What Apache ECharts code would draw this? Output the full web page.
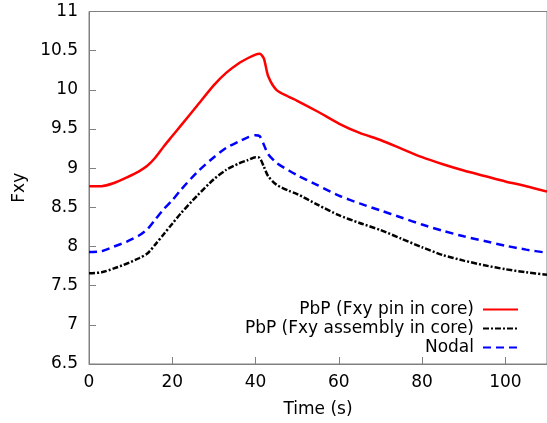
<!DOCTYPE html>
<html>
<head>
<meta charset="utf-8">
<script src="https://cdn.jsdelivr.net/npm/echarts@6/dist/echarts.min.js"></script>
<style>html,body{margin:0;padding:0;background:#fff;}#c{width:547px;height:423px;}</style>
</head>
<body>
<div id="c"></div>
<script>
var times = [0, 3, 6, 9, 12, 14, 16, 18, 20, 22, 26, 30, 33, 36, 38, 40, 41, 42, 43, 45, 48, 50, 55, 60, 65, 70, 75, 80, 85, 90, 95, 100, 105, 110];
var pinCore = [8.77, 8.77, 8.81, 8.88, 8.96, 9.03, 9.14, 9.28, 9.41, 9.54, 9.80, 10.06, 10.22, 10.34, 10.40, 10.45, 10.46, 10.40, 10.18, 10.00, 9.91, 9.86, 9.72, 9.57, 9.45, 9.36, 9.25, 9.14, 9.05, 8.97, 8.90, 8.83, 8.77, 8.70];
var assemblyCore = [7.66, 7.67, 7.72, 7.78, 7.85, 7.91, 8.03, 8.16, 8.29, 8.42, 8.65, 8.86, 8.98, 9.06, 9.10, 9.14, 9.13, 9.02, 8.90, 8.79, 8.71, 8.67, 8.53, 8.40, 8.30, 8.21, 8.10, 7.99, 7.89, 7.82, 7.76, 7.71, 7.67, 7.64];
var nodal = [7.93, 7.94, 8.00, 8.06, 8.14, 8.22, 8.35, 8.48, 8.59, 8.72, 8.95, 9.14, 9.26, 9.34, 9.39, 9.42, 9.41, 9.30, 9.18, 9.07, 8.97, 8.91, 8.78, 8.65, 8.55, 8.46, 8.37, 8.28, 8.20, 8.13, 8.07, 8.01, 7.96, 7.92];
var seriesNames = ['PbP (Fxy pin in core)', 'PbP (Fxy assembly in core)', 'Nodal'];
var xTitle = 'Time (s)';
var yTitle = 'Fxy';

function pairs(ys){ return times.map(function(t,i){ return [t, ys[i]]; }); }

var font = 'DejaVu Sans';
var axisGray = '#808080';
var chart = echarts.init(document.getElementById('c'));
chart.setOption({
  animation: false,
  backgroundColor: '#fff',
  grid: { left: 89, right: -2, top: 11.5, bottom: 56, show: true, borderColor: axisGray, borderWidth: 1 },
  xAxis: {
    type: 'value', min: 0, max: 110, interval: 20,
    name: xTitle, nameLocation: 'middle', nameGap: 37,
    nameTextStyle: { fontFamily: font, fontSize: 17, color: '#000' },
    axisLine: { lineStyle: { color: axisGray } },
    axisTick: { inside: true, length: 7, lineStyle: { color: axisGray } },
    axisLabel: { fontFamily: font, fontSize: 17, color: '#000', margin: 10, showMaxLabel: false },
    splitLine: { show: false }
  },
  yAxis: {
    type: 'value', min: 6.5, max: 11, interval: 0.5,
    name: yTitle, nameLocation: 'middle', nameGap: 61, nameRotate: 90,
    nameTextStyle: { fontFamily: font, fontSize: 17, color: '#000' },
    axisLine: { show: true, lineStyle: { color: axisGray } },
    axisTick: { show: true, inside: true, length: 7, lineStyle: { color: axisGray } },
    axisLabel: { fontFamily: font, fontSize: 17, color: '#000', margin: 11 },
    splitLine: { show: false }
  },
  legend: {
    orient: 'vertical', right: 23, top: 296, align: 'right',
    itemWidth: 35, itemHeight: 14, itemGap: 2,
    itemStyle: { opacity: 0 },
    textStyle: { fontFamily: font, fontSize: 17, color: '#000', padding: [0, 4, 0, 0] },
    data: seriesNames
  },
  series: [
    { name: seriesNames[0], type: 'line', data: pairs(pinCore), showSymbol: false, symbol: 'none', smooth: 0.25,
      lineStyle: { color: '#ff0000', width: 2.5 }, itemStyle: { color: '#ff0000' } },
    { name: seriesNames[1], type: 'line', data: pairs(assemblyCore), showSymbol: false, symbol: 'none', smooth: 0.25,
      lineStyle: { color: '#000000', width: 2.5, type: [6, 2, 2, 2] }, itemStyle: { color: '#000000' } },
    { name: seriesNames[2], type: 'line', data: pairs(nodal), showSymbol: false, symbol: 'none', smooth: 0.25,
      lineStyle: { color: '#0000ff', width: 2.5, type: [8, 5] }, itemStyle: { color: '#0000ff' } }
  ]
});
</script>
</body>
</html>
